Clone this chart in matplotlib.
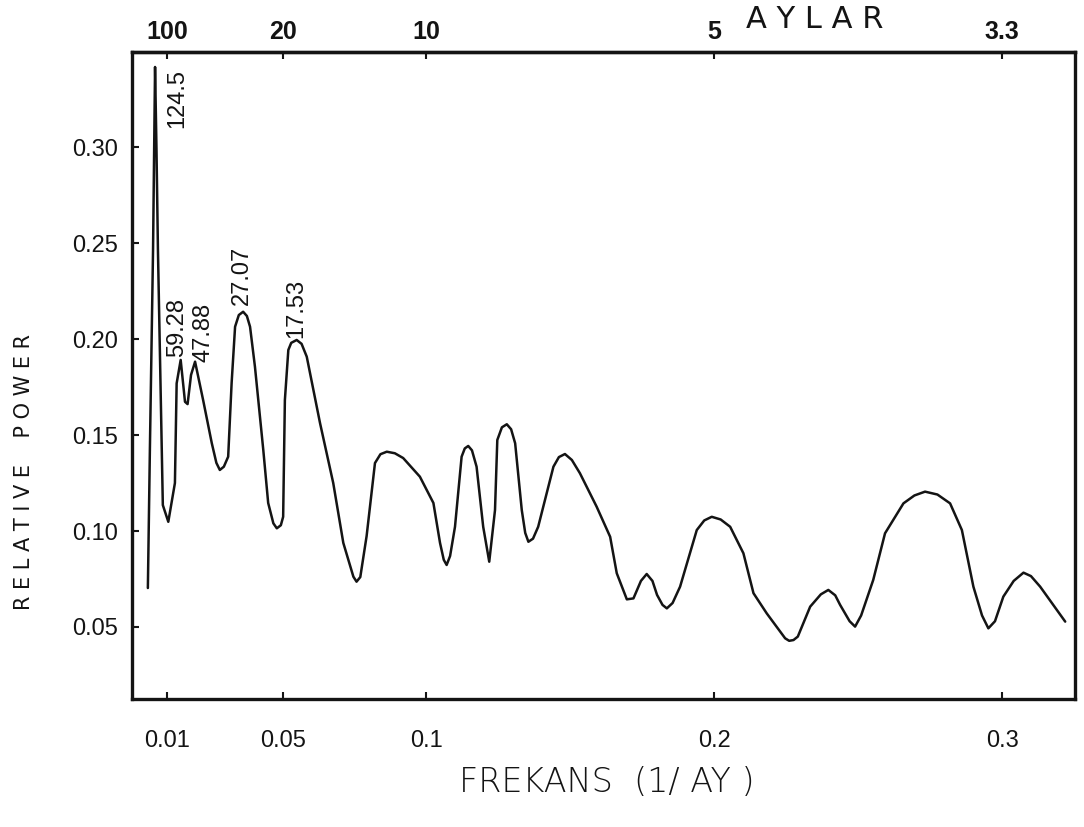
import matplotlib
matplotlib.use("Agg")
import matplotlib.pyplot as plt
import numpy as np
from matplotlib import font_manager

# ---------------- data ----------------
freq = [0.0032, 0.0039, 0.0050, 0.0057, 0.0062, 0.0067, 0.0084, 0.0103, 0.0126, 0.0132,
        0.0146, 0.0161, 0.0170, 0.0182, 0.0196, 0.0224, 0.0254, 0.0282, 0.0311, 0.0323,
        0.0335, 0.0363, 0.0387, 0.0404, 0.0433, 0.0450, 0.0480, 0.0502, 0.0508, 0.0520,
        0.0549, 0.0584, 0.0630, 0.0676, 0.0711, 0.0746, 0.0757, 0.0792, 0.0821, 0.0862,
        0.0919, 0.0977, 0.1024, 0.1047, 0.1070, 0.1099, 0.1122, 0.1145, 0.1174, 0.1197,
        0.1218, 0.1238, 0.1246, 0.1279, 0.1308, 0.1331, 0.1354, 0.1388, 0.1441, 0.1481,
        0.1533, 0.1591, 0.1638, 0.1661, 0.1696, 0.1719, 0.1765, 0.1801, 0.1835, 0.1881,
        0.1939, 0.1991, 0.2055, 0.2101, 0.2136, 0.2182, 0.2246, 0.2275, 0.2333, 0.2396,
        0.2437, 0.2489, 0.2552, 0.2593, 0.2657, 0.2732, 0.2819, 0.2860, 0.2900, 0.2952,
        0.3004, 0.3074, 0.3132, 0.3219,
        # additional readings around peaks and troughs
        0.0270, 0.0296, 0.0348, 0.0376, 0.0468, 0.0494, 0.0530, 0.0566, 0.0770, 0.0840,
        0.0890, 0.1060, 0.1082, 0.1133, 0.1158, 0.1262, 0.1294, 0.1343, 0.1370, 0.1460,
        0.1505, 0.1745, 0.1785, 0.1820, 0.1855, 0.1965, 0.2022, 0.2260, 0.2290, 0.2370,
        0.2420, 0.2470, 0.2510, 0.2695, 0.2775, 0.2930, 0.2975, 0.3040, 0.3100]
power = [0.0703, 0.1422, 0.2464, 0.3417, 0.2984, 0.2464, 0.1135, 0.1048, 0.1250, 0.1769,
         0.1891, 0.1673, 0.1661, 0.1813, 0.1882, 0.1682, 0.1458, 0.1318, 0.1387, 0.1771,
         0.2064, 0.2142, 0.2064, 0.1856, 0.1422, 0.1146, 0.1014, 0.1074, 0.1682, 0.1943,
         0.1995, 0.1908, 0.1563, 0.1250, 0.0938, 0.0762, 0.0736, 0.0974, 0.1354, 0.1413,
         0.1380, 0.1283, 0.1146, 0.0938, 0.0823, 0.1022, 0.1387, 0.1443, 0.1335, 0.1022,
         0.0840, 0.1109, 0.1474, 0.1556, 0.1457, 0.1109, 0.0944, 0.1022, 0.1335, 0.1401,
         0.1301, 0.1127, 0.0970, 0.0780, 0.0644, 0.0649, 0.0776, 0.0667, 0.0597, 0.0710,
         0.1005, 0.1074, 0.1022, 0.0884, 0.0676, 0.0571, 0.0441, 0.0432, 0.0606, 0.0693,
         0.0615, 0.0502, 0.0745, 0.0988, 0.1144, 0.1205, 0.1144, 0.1005, 0.0710, 0.0493,
         0.0658, 0.0783, 0.0710, 0.0528,
         0.1355, 0.1335, 0.2125, 0.2120, 0.1040, 0.1030, 0.1980, 0.1975, 0.0760, 0.1400,
         0.1405, 0.0850, 0.0870, 0.1430, 0.1420, 0.1540, 0.1530, 0.0990, 0.0960, 0.1385,
         0.1370, 0.0740, 0.0740, 0.0615, 0.0625, 0.1055, 0.1060, 0.0428, 0.0450, 0.0670,
         0.0665, 0.0530, 0.0560, 0.1185, 0.1190, 0.0560, 0.0530, 0.0740, 0.0765]

peak_labels = ["124.5", "59.28", "47.88", "27.07", "17.53"]
peak_label_f = [0.0133, 0.0133, 0.0225, 0.0359, 0.0547]
peak_label_v = [0.3255, 0.2060, 0.2036, 0.2333, 0.2160]

bottom_ticks = [0.01, 0.05, 0.1, 0.2, 0.3]
bottom_labels = ["0.01", "0.05", "0.1", "0.2", "0.3"]
top_ticks = [0.01, 0.05, 0.1, 0.2, 0.3]
top_labels = ["100", "20", "10", "5", "3.3"]
y_ticks = [0.05, 0.10, 0.15, 0.20, 0.25, 0.30]
y_labels = ["0.05", "0.10", "0.15", "0.20", "0.25", "0.30"]

# ---------------- fonts ----------------
names = {f.name for f in font_manager.fontManager.ttflist}
narrow = "Liberation Sans Narrow" if "Liberation Sans Narrow" in names else "Liberation Sans"
NUM = [narrow, "DejaVu Sans"]

ink = "#141414"
fig = plt.figure(figsize=(10.84, 8.27), dpi=100)
ax = fig.add_axes([0.1218, 0.1548, 0.8699, 0.7823])

order = np.argsort(freq)
ax.plot(np.asarray(freq)[order], np.asarray(power)[order], color=ink, lw=1.8,
        solid_joinstyle="round", solid_capstyle="round")

for lab, f, v in zip(peak_labels, peak_label_f, peak_label_v):
    ax.text(f, v, lab, rotation=90, ha="center", va="center",
            family=NUM, fontsize=17, color=ink)

ax.set_xlim(-0.0023, 0.3253)
ax.set_ylim(0.0125, 0.3495)

ax.set_xticks(bottom_ticks)
ax.set_xticklabels(bottom_labels, family=NUM, fontsize=17, color=ink)
ax.set_yticks(y_ticks)
ax.set_yticklabels(y_labels, family=NUM, fontsize=17, color=ink)
ax.tick_params(axis="x", direction="in", length=5, width=1.5, pad=22, color=ink)
ax.tick_params(axis="y", direction="in", length=5, width=1.5, pad=10, color=ink)

sec = ax.secondary_xaxis("top")
sec.set_xticks(top_ticks)
sec.set_xticklabels(top_labels, family=NUM, fontsize=18, color=ink, fontweight="bold")
sec.tick_params(direction="in", length=5, width=1.5, pad=6, color=ink)
sec.spines["top"].set_linewidth(2.4)
sec.spines["top"].set_color(ink)

for s in ax.spines.values():
    s.set_linewidth(2.4)
    s.set_color(ink)

fig.text(815 / 1084, 1 - 20 / 827, "A Y L A R", ha="center", va="center",
         fontsize=22, color=ink, family="DejaVu Sans")
fig.text(607 / 1084, 1 - 782 / 827, "FREKANS  (1/ AY )", ha="center", va="center",
         fontsize=24, color=ink, family="DejaVu Sans", fontweight="light")
fig.text(24 / 1084, 1 - 472 / 827, "R E L A T I V E    P O W E R", rotation=90,
         ha="center", va="center", fontsize=15, color=ink, family="DejaVu Sans")

fig.savefig("out.png", dpi=100, facecolor="white")
